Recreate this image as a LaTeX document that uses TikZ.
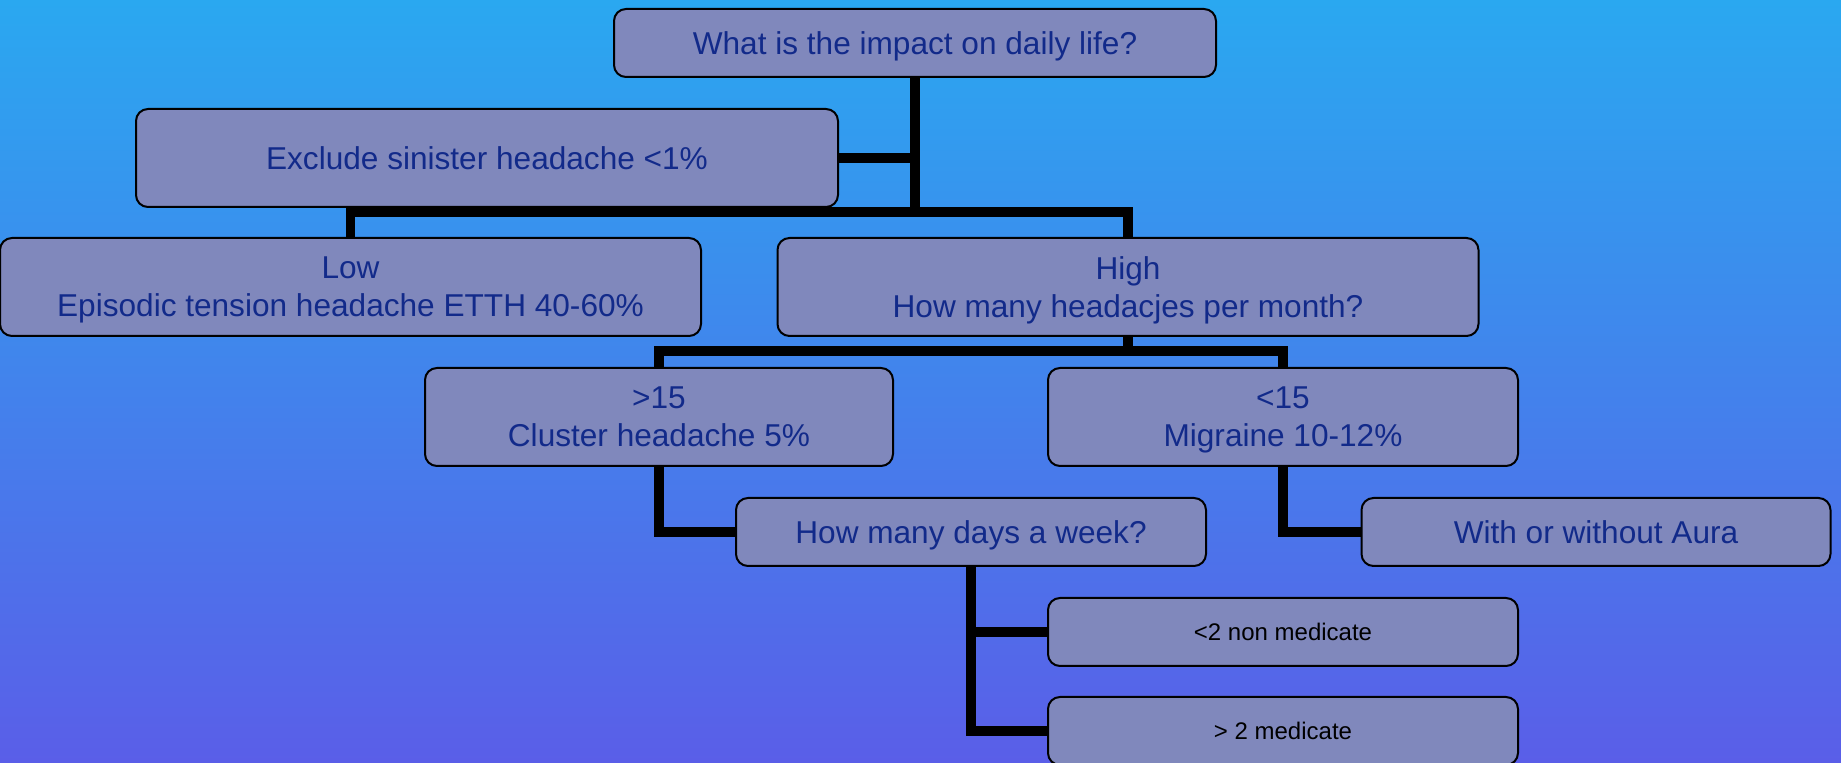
\documentclass[tikz,border=0pt]{standalone}
\usepackage{fontspec}
\setmainfont{Liberation Sans}
\definecolor{bgtop}{RGB}{42,168,240}
\definecolor{bgbot}{RGB}{90,94,232}
\definecolor{boxfill}{RGB}{128,136,188}
\definecolor{txtblue}{RGB}{18,42,138}
\newcommand{\twoline}[2]{\rule{0pt}{11pt}#1\\\raisebox{0pt}[\height][0pt]{#2}}
\begin{document}
\begin{tikzpicture}[x=0.5pt,y=-0.5pt,
  box/.style={draw=black,line width=1pt,fill=boxfill,rounded corners=6pt,
    text=txtblue,align=center,inner sep=0pt,
    font=\fontsize{15.8}{19}\selectfont},
  one/.style={box,text height=12pt,text depth=0pt},
  small/.style={box,text=black,font=\fontsize{12}{14}\selectfont,text height=9pt,text depth=0pt},
  conn/.style={line width=4.6pt,black,line join=miter}]
\useasboundingbox (0pt,0pt) rectangle (920.5pt,-381.5pt);
\shade[top color=bgtop,bottom color=bgbot] (0pt,0pt) rectangle (920.5pt,-381.5pt);
% junction points
\coordinate (j1) at (915,212);
\coordinate (j2) at (1128,351);
% nodes
\node[one,minimum width=301pt,minimum height=34pt] (top) at (915,43) {What is the impact on daily life?};
\node[one,minimum width=351pt,minimum height=49pt] (excl) at (487,158) {Exclude sinister headache <1\%};
\node[box,minimum width=350.5pt,minimum height=49pt] (low) at (350.5,287) {\twoline{Low}{Episodic tension headache ETTH 40-60\%}};
\node[box,minimum width=350.5pt,minimum height=49pt] (high) at (1128,287) {\twoline{High}{How many headacjes per month?}};
\node[box,minimum width=234pt,minimum height=49pt] (gt15) at (659,417) {\twoline{>15}{Cluster headache 5\%}};
\node[box,minimum width=235pt,minimum height=49pt] (lt15) at (1283,417) {\twoline{<15}{Migraine 10-12\%}};
\node[one,minimum width=235pt,minimum height=34pt] (days) at (971,532) {How many days a week?};
\node[one,minimum width=234.5pt,minimum height=34pt] (aura) at (1596,532) {With or without Aura};
\node[small,minimum width=235pt,minimum height=34pt] (lt2) at (1283,632) {<2 non medicate};
\node[small,minimum width=235pt,minimum height=34pt] (gt2) at (1283,731) {> 2 medicate};
% connectors
\draw[conn] (top.south) -- (j1);
\draw[conn] (excl.east) -- (excl.east -| top.south);
\draw[conn] (low.north) |- (j1) -| (high.north);
\draw[conn] (high.south) -- (j2);
\draw[conn] (gt15.north) |- (j2) -| (lt15.north);
\draw[conn] (gt15.south) |- (days.west);
\draw[conn] (lt15.south) |- (aura.west);
\draw[conn] (days.south) |- (lt2.west);
\draw[conn] (days.south) |- (gt2.west);
\end{tikzpicture}
\end{document}
